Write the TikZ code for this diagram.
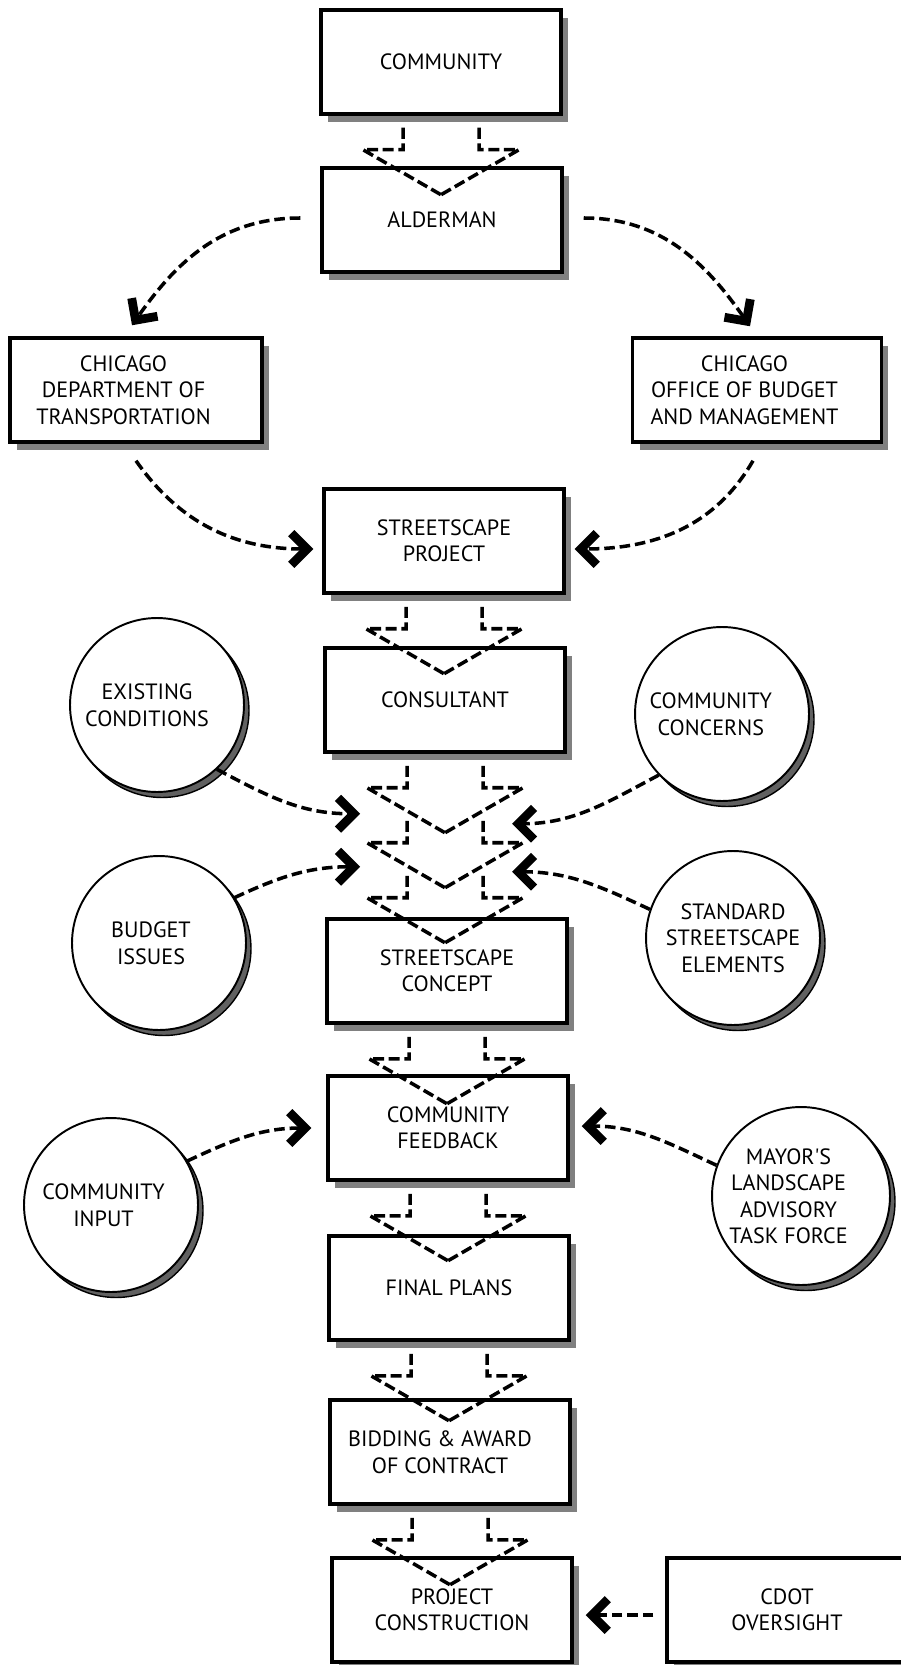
\documentclass[tikz,border=0pt]{standalone}
\usepackage{fontspec}
\setmainfont{PT Sans}
\usepackage{tikz}
\usetikzlibrary{calc,shadows,arrows.meta}

\tikzset{
  box/.style={draw, line width=2pt, fill=white, minimum width=4.8cm, minimum height=2.08cm, align=center,
    drop shadow={shadow xshift=0.14cm, shadow yshift=-0.16cm, fill=black!50, opacity=1}},
  bubble/.style={circle, draw, line width=1.1pt, fill=white, minimum size=3.48cm, inner sep=0pt, align=center,
    drop shadow={shadow xshift=0.1cm, shadow yshift=-0.11cm, fill=black!62, draw=black, line width=0.8pt, opacity=1}},
  flow/.style={draw, line width=2pt, dash pattern=on 6.3pt off 2.6pt},
  link/.style={line width=2pt, dash pattern=on 6pt off 2.8pt,
    -{Straight Barb[length=9pt,width=18pt,line width=5pt]}}
}

% block arrow below a point
\newcommand{\flowdown}[1]{%
  \draw[flow] ($#1+(-38,-12)$) -- ++(0,-22) -- ++(-40,0) -- ($#1+(0,-79)$);
  \draw[flow] ($#1+(38,-12)$) -- ++(0,-22) -- ++(40,0) -- ($#1+(0,-79)$);
}
% text block pushed to the left by #1
\newcommand{\padtext}[2]{\raisebox{-1.5pt}[\height][\depth]{\begin{tabular}{@{}c@{\hspace{#1}}}#2\end{tabular}}}

\begin{document}
\begin{tikzpicture}[x=0.02cm, y=0.02cm, font=\fontsize{12.6pt}{15pt}\selectfont]
\useasboundingbox (0,0) rectangle (900,-1665);

% Main column
\node[box] (community) at (441,-62) {COMMUNITY};
\node[box] (alderman) at (442,-220) {ALDERMAN};
\node[box, minimum width=5.04cm] (cdot) at (136,-390) {\padtext{0.5cm}{CHICAGO\\DEPARTMENT OF\\TRANSPORTATION}};
\node[box, minimum width=4.98cm] (obm) at (757,-390) {\padtext{0.5cm}{CHICAGO\\OFFICE OF BUDGET\\AND MANAGEMENT}};
\node[box] (project) at (444,-541) {STREETSCAPE\\PROJECT};
\node[box] (consultant) at (445,-700) {CONSULTANT};
\node[box] (concept) at (447,-971) {STREETSCAPE\\CONCEPT};
\node[box] (feedback) at (448,-1128) {COMMUNITY\\FEEDBACK};
\node[box] (finalplans) at (449,-1288) {FINAL PLANS};
\node[box] (bidding) at (450,-1452) {\padtext{0.4cm}{BIDDING \& AWARD\\OF CONTRACT}};
\node[box] (construction) at (452,-1610) {PROJECT\\CONSTRUCTION};
\node[box] (oversight) at (787,-1610) {CDOT\\OVERSIGHT};

% Inputs
\node[bubble] (existing) at (157,-705) {\padtext{0.4cm}{EXISTING\\CONDITIONS}};
\node[bubble] (concerns) at (722,-714) {\padtext{0.45cm}{COMMUNITY\\CONCERNS}};
\node[bubble] (budget) at (159,-943) {\padtext{0.32cm}{BUDGET\\ISSUES}};
\node[bubble] (standard) at (733,-938) {STANDARD\\STREETSCAPE\\ELEMENTS};
\node[bubble] (input) at (111,-1205) {\padtext{0.3cm}{COMMUNITY\\INPUT}};
\node[bubble] (mayor) at (801,-1196) {\padtext{0.5cm}{MAYOR\textquotesingle S\\LANDSCAPE\\ADVISORY\\TASK FORCE}};

% Block arrows
\flowdown{(community.south)}
\flowdown{(project.south)}
\flowdown{(consultant.south)}
\flowdown{(consultant.south)+(0,-55)}
\flowdown{(consultant.south)+(0,-110)}
\flowdown{(concept.south)}
\flowdown{(feedback.south)}
\flowdown{(finalplans.south)}
\flowdown{(bidding.south)}

% Points where the inputs join
\coordinate (joinL1) at ($(consultant.south)+(-85,-60)$);
\coordinate (joinR1) at ($(consultant.south)+(67,-70)$);
\coordinate (joinL2) at ($(consultant.south)+(-85,-113)$);
\coordinate (joinR2) at ($(consultant.south)+(67,-118)$);

% Dashed arrows
\draw[link] ($(alderman.west)+(-20,2)$) to[out=180, in=55] ($(cdot.north)+(-4,11)$);
\draw[link] ($(alderman.east)+(20,2)$) to[out=0, in=125] ($(obm.north)+(-7,10)$);
\draw[link] ($(cdot.south)+(0,-17)$) to[out=-55, in=180] ($(project.west)+(-9,-8)$);
\draw[link] ($(obm.south)+(-4,-17)$) to[out=-120, in=0] ($(project.east)+(9,-8)$);

\draw[link] (existing.-47) to[out=-28, in=180] (joinL1);
\draw[link] (concerns.224) to[out=208, in=0] (joinR1);
\draw[link] (budget.31) to[out=25, in=180] (joinL2);
\draw[link] (standard.161) to[out=155, in=0] (joinR2);

\draw[link] (input.30) to[out=25, in=180] ($(feedback.west)+(-15,0)$);
\draw[link] (mayor.160) to[out=155, in=0] ($(feedback.east)+(12,2)$);

\draw[link] ($(oversight.west)+(-12,-5)$) -- ($(construction.east)+(12,-5)$);
\end{tikzpicture}
\end{document}
